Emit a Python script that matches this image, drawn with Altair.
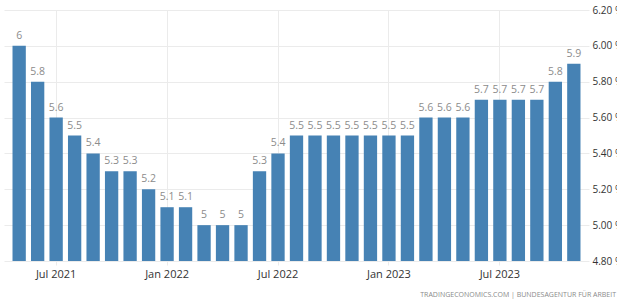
import altair as alt
import pandas as pd

months = ["May 2021", "Jun 2021", "Jul 2021", "Aug 2021", "Sep 2021", "Oct 2021",
          "Nov 2021", "Dec 2021", "Jan 2022", "Feb 2022", "Mar 2022", "Apr 2022",
          "May 2022", "Jun 2022", "Jul 2022", "Aug 2022", "Sep 2022", "Oct 2022",
          "Nov 2022", "Dec 2022", "Jan 2023", "Feb 2023", "Mar 2023", "Apr 2023",
          "May 2023", "Jun 2023", "Jul 2023", "Aug 2023", "Sep 2023", "Oct 2023",
          "Nov 2023"]
values = [6.0, 5.8, 5.6, 5.5, 5.4, 5.3, 5.3, 5.2, 5.1, 5.1, 5.0, 5.0, 5.0,
          5.3, 5.4, 5.5, 5.5, 5.5, 5.5, 5.5, 5.5, 5.5, 5.6, 5.6, 5.6,
          5.7, 5.7, 5.7, 5.7, 5.8, 5.9]
tick_months = ["Jul 2021", "Jan 2022", "Jul 2022", "Jan 2023", "Jul 2023"]
y_ticks = [4.8, 5.0, 5.2, 5.4, 5.6, 5.8, 6.0, 6.2]
source = "TRADINGECONOMICS.COM  |  BUNDESAGENTUR FÜR ARBEIT"

df = pd.DataFrame({"month": months, "value": values,
                   "label": [f"{v:g}" for v in values]})

FONT = "Open Sans"

x = alt.X("month:N", sort=None, title=None,
          scale=alt.Scale(paddingInner=0.28, paddingOuter=0.46),
          axis=alt.Axis(values=tick_months, labelAngle=0, labelFont=FONT,
                        labelFontSize=11, labelColor="#333333", labelPadding=3,
                        grid=True, gridColor="#ebebeb", domain=False,
                        ticks=True, tickColor="#ebebeb", tickSize=4))
y = alt.Y("value:Q", title=None,
          scale=alt.Scale(domain=[4.8, 6.2], zero=False, nice=False),
          axis=alt.Axis(orient="right", values=y_ticks, format=".2f",
                        labelExpr="datum.label + ' %'", labelFont=FONT,
                        labelFontSize=10, labelColor="#333333", labelPadding=3,
                        grid=True, gridColor="#ebebeb", domain=False, ticks=False))

base = alt.Chart(df)
bars = base.mark_bar(color="#4682b4").encode(x=x, y=y, y2=alt.datum(4.8))
labels = base.mark_text(baseline="bottom", dy=-5, font=FONT, fontSize=10.5,
                        color="#8c8c8c").encode(x=x, y=y, text="label:N")
src = alt.Chart(pd.DataFrame({"t": [source]})).mark_text(
    align="right", baseline="middle", font=FONT, fontSize=7, color="#8a8a8a"
).encode(x=alt.value(612), y=alt.value(285), text="t:N")

chart = alt.layer(bars, labels, src).properties(
    width=585, height=251,
    autosize=alt.AutoSizeParams(type="none"),
    padding={"left": 4, "top": 10, "right": 28, "bottom": 40},
    background="white",
).configure_view(stroke=None)

chart.save("out.html", embed_options={"renderer": "svg", "actions": False})
